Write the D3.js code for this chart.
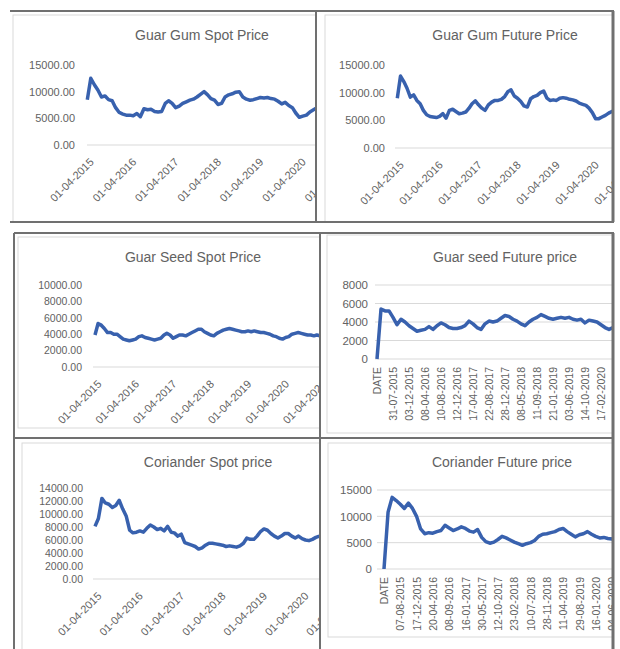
<!DOCTYPE html>
<html>
<head>
<meta charset="utf-8">
<script src="https://cdn.jsdelivr.net/npm/d3@7"></script>
<style>
  body { margin: 0; background: #fff; }
  svg { display: block; font-family: "Liberation Sans", Arial, sans-serif; }
</style>
</head>
<body>
<svg id="chart" width="620" height="649"></svg>
<script>
// monthly values, starting April 2015
const guarGumSpot = [
  8500, 12500, 11300, 10300, 9000, 9200, 8500, 8300, 7000, 6100, 5800, 5600,
  5600, 5500, 5900, 5300, 6800, 6600, 6700, 6300, 6200, 6300, 7800, 8300,
  7800, 7000, 7300, 7800, 8100, 8400, 8600, 9000, 9500, 10000, 9400, 8700,
  8400, 7600, 7800, 9000, 9400, 9600, 9900, 10000, 9000, 8600, 8400, 8500,
  8700, 8900, 8800, 8900, 8700, 8600, 8200, 7700, 8000, 7400, 7000, 6000,
  5200, 5400, 5600, 6200, 6600, 7000
];
const guarGumFuture = [
  9000, 13000, 12000, 10800, 9200, 9600, 8600, 8000, 6800, 6000, 5700, 5600,
  5500, 5700, 6200, 5400, 6800, 7000, 6600, 6200, 6300, 6500, 7200, 8000,
  8500, 7800, 7200, 6800, 7800, 8300, 8600, 8600, 8800, 9300, 10200, 10500,
  9400, 9000, 8400, 7600, 7400, 8900, 9300, 9500, 10000, 10300, 9000, 8600,
  8700, 8600, 9000, 9100, 9000, 8800, 8700, 8500, 8100, 7900, 7700, 7200,
  6400, 5300, 5300, 5600, 5900, 6300, 6600, 6900
];
const guarSeedSpot = [
  3900, 5300, 5100, 4700, 4200, 4200, 4000, 4000, 3700, 3400, 3300, 3200,
  3300, 3400, 3700, 3800, 3600, 3500, 3400, 3300, 3400, 3500, 3900, 4100,
  3900, 3500, 3700, 3900, 3900, 3800, 4000, 4200, 4400, 4600, 4600, 4300,
  4100, 3900, 3800, 4100, 4300, 4500, 4600, 4700, 4600, 4500, 4400, 4300,
  4300, 4400, 4300, 4400, 4300, 4200, 4200, 4100, 4000, 3800, 3700, 3500,
  3400, 3600, 3700, 4000, 4100, 4200, 4100, 4000, 3900, 3900, 3800, 3900,
  3800
];
const corianderSpot = [
  8100, 9300, 12400, 11700, 11500, 11000, 11300, 12100, 10800, 9700, 7500, 7100,
  7200, 7400, 7200, 7800, 8300, 8000, 7600, 7800, 7400, 8100, 7200, 7100,
  6600, 6900, 5600, 5400, 5200, 5000, 4600, 4800, 5200, 5500, 5500, 5400,
  5300, 5200, 5000, 5100, 5000, 4900, 5100, 5500, 6300, 6100, 6100, 6600,
  7300, 7700, 7500, 7000, 6600, 6300, 6600, 7000, 7000, 6600, 6300, 6600,
  6200, 6000, 5900, 6100, 6400, 6600
];
// future sheets: first row is the "DATE" header (0), then the prices
const guarSeedFuture = [
  0, 5400, 5200, 5200, 4500, 3700, 4300, 4000, 3600, 3300, 3000, 3100,
  3200, 3500, 3200, 3600, 3900, 3700, 3400, 3300, 3300, 3400, 3600, 4100,
  3800, 3400, 3200, 3800, 4100, 4000, 4100, 4400, 4700, 4600, 4300, 4100,
  3800, 3600, 4000, 4300, 4500, 4800, 4600, 4400, 4300, 4400, 4500, 4400,
  4500, 4300, 4200, 4300, 3900, 4200, 4100, 4000, 3700, 3400, 3200, 3400,
  3500
];
const corianderFuture = [
  0, 10800, 13600, 13000, 12300, 11500, 12500, 11500, 10000, 7600, 6700, 6900,
  6800, 7100, 7300, 8300, 7800, 7300, 7600, 8000, 7700, 7200, 7000, 7500,
  6000, 5200, 4900, 5100, 5600, 6200, 5900, 5500, 5100, 4800, 4500, 4800,
  5000, 5400, 6200, 6600, 6700, 6900, 7100, 7500, 7700, 7100, 6600, 6100,
  6500, 6700, 7100, 6600, 6200, 5900, 6000, 5800, 5700, 6000
];

const spotTickLabels = ["01-04-2015", "01-04-2016", "01-04-2017", "01-04-2018",
  "01-04-2019", "01-04-2020", "01-04-2021"];
const guarSeedFutureLabels = ["DATE", "31-07-2015", "03-12-2015", "08-04-2016",
  "10-08-2016", "12-12-2016", "17-04-2017", "22-08-2017", "28-12-2017",
  "08-05-2018", "11-09-2018", "21-01-2019", "03-06-2019", "14-10-2019", "17-02-2020"];
const corianderFutureLabels = ["DATE", "07-08-2015", "17-12-2015", "20-04-2016",
  "08-09-2016", "16-01-2017", "30-05-2017", "12-10-2017", "23-02-2018",
  "10-07-2018", "28-11-2018", "11-04-2019", "29-08-2019", "16-01-2020", "04-06-2020"];

const lineColor = "#3861ae";
const textColor = "#626262";
const gridColor = "#d9d9d9";

const svg = d3.select("#chart");
const parseDmy = d3.timeParse("%d-%m-%Y");
const spotStart = parseDmy(spotTickLabels[0]);

const panels = [
  {id: "c1", kind: "spot", values: guarGumSpot, title: "Guar Gum Spot Price",
   cell: [10, 11, 316, 222], area: [13, 15], tx: 202, ty: 35,
   yMax: 15000, yStep: 5000, yFmt: ".2f", y0: 145, y1: 65, yLabelX: 75, yFont: 11,
   x0: 87.3, pxYear: 42.4, baseX: 87, grid: false, xFont: 11},
  {id: "c2", kind: "spot", values: guarGumFuture, title: "Guar Gum Future Price",
   cell: [316, 11, 614, 222], area: [325, 15], tx: 505, ty: 35,
   yMax: 15000, yStep: 5000, yFmt: ".2f", y0: 148, y1: 65, yLabelX: 385, yFont: 11,
   x0: 397.3, pxYear: 39, baseX: 395, grid: false, xFont: 11},
  {id: "c3", kind: "spot", values: guarSeedSpot, title: "Guar Seed Spot  Price",
   cell: [14, 233, 320, 438], area: [18, 237, 428], tx: 193, ty: 257,
   yMax: 10000, yStep: 2000, yFmt: ".2f", y0: 367, y1: 285, yLabelX: 82, yFont: 10.5,
   x0: 95, pxYear: 37.5, baseX: 93, grid: false, xFont: 11},
  {id: "c4", kind: "future", values: guarSeedFuture, labels: guarSeedFutureLabels,
   title: "Guar seed Future price",
   cell: [320, 233, 614, 438], area: [327, 235, 433], tx: 505, ty: 257,
   yMax: 8000, yStep: 2000, yFmt: "d", y0: 359, y1: 285, yLabelX: 368, yFont: 11.5,
   x0: 377, pxIndex: 4, baseX: 375, grid: true, xFont: 10.5},
  {id: "c5", kind: "spot", values: corianderSpot, title: "Coriander Spot price",
   cell: [14, 438, 320, 649], area: [22, 443], tx: 208, ty: 462,
   yMax: 14000, yStep: 2000, yFmt: ".2f", y0: 579, y1: 488, yLabelX: 83, yFont: 10.5,
   x0: 95, pxYear: 41.4, baseX: 93, grid: false, xFont: 11},
  {id: "c6", kind: "future", values: corianderFuture, labels: corianderFutureLabels,
   title: "Coriander Future price",
   cell: [320, 438, 614, 649], area: [328, 443, 637], tx: 502, ty: 462,
   yMax: 15000, yStep: 5000, yFmt: "d", y0: 569, y1: 490, yLabelX: 372, yFont: 11.5,
   x0: 384, pxIndex: 4.07, baseX: 377, grid: true, xFont: 10.5}
];

const defs = svg.append("defs");

panels.forEach(p => {
  const [cx0, cy0, cx1, cy1] = p.cell;
  defs.append("clipPath").attr("id", p.id).append("rect")
    .attr("x", cx0).attr("y", cy0).attr("width", cx1 - cx0).attr("height", cy1 - cy0);

  const g = svg.append("g").attr("clip-path", `url(#${p.id})`);

  // excel chart area outline
  g.append("rect")
    .attr("x", p.area[0]).attr("y", p.area[1])
    .attr("width", 700).attr("height", (p.area[2] || 900) - p.area[1])
    .attr("fill", "none").attr("stroke", gridColor);

  g.append("text")
    .attr("x", p.tx).attr("y", p.ty).attr("dy", "0.35em")
    .attr("text-anchor", "middle").attr("font-size", 14).attr("fill", textColor)
    .text(p.title);

  const y = d3.scaleLinear().domain([0, p.yMax]).range([p.y0, p.y1]);
  const yTicks = d3.range(0, p.yMax + 1, p.yStep);

  g.append("g").selectAll("line")
    .data(p.grid ? yTicks : [0])
    .join("line")
    .attr("x1", p.baseX).attr("x2", cx1)
    .attr("y1", d => y(d)).attr("y2", d => y(d))
    .attr("stroke", gridColor);

  const yAxis = g.append("g")
    .attr("transform", `translate(${p.yLabelX},0)`)
    .call(d3.axisLeft(y).tickValues(yTicks).tickFormat(d3.format(p.yFmt)).tickSize(0).tickPadding(0));
  yAxis.attr("font-family", null).attr("font-size", p.yFont);
  yAxis.select(".domain").remove();
  yAxis.selectAll("text").attr("fill", textColor);

  let xPos;
  let xAxis;
  if (p.kind === "spot") {
    const x = d3.scaleTime()
      .domain([spotStart, d3.timeYear.offset(spotStart, 6)])
      .range([p.x0, p.x0 + 6 * p.pxYear]);
    const tickDates = spotTickLabels.map(parseDmy);
    xAxis = g.append("g")
      .attr("transform", `translate(0,${p.y0})`)
      .call(d3.axisBottom(x).tickValues(tickDates)
        .tickFormat((d, i) => spotTickLabels[i]).tickSize(0));
    xAxis.selectAll("text")
      .attr("y", 0).attr("dy", "0.35em")
      .attr("text-anchor", "end")
      .attr("transform", "translate(4,15) rotate(-45)");
    xPos = (d, i) => x(d3.timeMonth.offset(spotStart, i));
  } else {
    const x = d3.scaleLinear().domain([0, 1]).range([p.x0, p.x0 + p.pxIndex]);
    xAxis = g.append("g")
      .attr("transform", `translate(0,${p.y0})`)
      .call(d3.axisBottom(x).tickValues(p.labels.map((d, i) => i * 4))
        .tickFormat((d, i) => p.labels[i]).tickSize(0));
    xAxis.selectAll("text")
      .attr("y", 0).attr("dy", "0.35em")
      .attr("text-anchor", "end")
      .attr("transform", "translate(0,8) rotate(-90)");
    xPos = (d, i) => x(i);
  }
  xAxis.attr("font-family", null).attr("font-size", p.xFont);
  xAxis.select(".domain").remove();
  xAxis.selectAll("text").attr("fill", textColor);

  const line = d3.line().x(xPos).y(d => y(d));
  g.append("path")
    .datum(p.values)
    .attr("d", line)
    .attr("fill", "none")
    .attr("stroke", lineColor)
    .attr("stroke-width", 3.5)
    .attr("stroke-linejoin", "round");
});

// table rules round the pasted charts
const rules = [
  [10, 11, 614, 11, 2], [10, 222, 614, 222, 2], [316, 11, 316, 222, 2], [613, 11, 613, 222, 3],
  [14, 233, 614, 233, 2], [14, 438, 614, 438, 2], [14, 233, 14, 649, 2],
  [320, 233, 320, 649, 2], [613, 233, 613, 649, 3]
];
svg.append("g").selectAll("line")
  .data(rules)
  .join("line")
  .attr("x1", d => d[0]).attr("y1", d => d[1])
  .attr("x2", d => d[2]).attr("y2", d => d[3])
  .attr("stroke", "#707070")
  .attr("stroke-width", d => d[4]);
</script>
</body>
</html>
